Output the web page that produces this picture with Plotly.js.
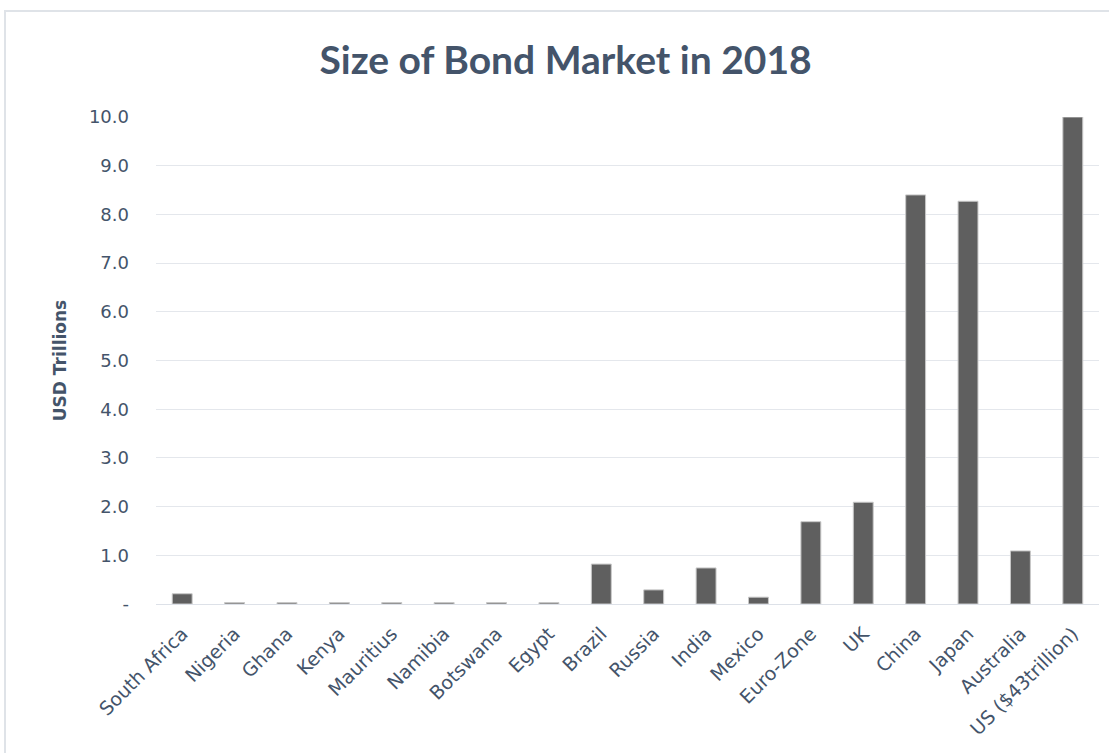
<!DOCTYPE html>
<html>
<head>
<meta charset="utf-8">
<script src="https://cdn.plot.ly/plotly-3.0.1.min.js"></script>
<style>
html,body{margin:0;padding:0;background:#fff;overflow:hidden;}
#frame{position:absolute;left:4px;top:10px;width:1130px;height:770px;border:2px solid #dfe3e8;box-sizing:border-box;}
#chart{position:absolute;left:0;top:0;width:1109px;height:753px;}
</style>
</head>
<body>
<div id="frame"></div>
<div id="chart"></div>
<script>
const categories = ["South Africa","Nigeria","Ghana","Kenya","Mauritius","Namibia","Botswana","Egypt","Brazil","Russia","India","Mexico","Euro-Zone","UK","China","Japan","Australia","US ($43trillion)"];
const values = [0.21,0.03,0.03,0.03,0.03,0.03,0.03,0.03,0.82,0.29,0.74,0.14,1.69,2.09,8.4,8.27,1.09,10.0];
const yTickVals = [0,1,2,3,4,5,6,7,8,9,10];
const yTickText = ["-","1.0","2.0","3.0","4.0","5.0","6.0","7.0","8.0","9.0","10.0"];

const titleFont = "Lato, 'Open Sans', sans-serif";
const bodyFont = "'DejaVu Sans', sans-serif";
const data = [{
  type: 'bar',
  x: categories,
  y: values,
  marker: {color: '#5f5f5f', line: {color: '#c8c8c8', width: 1}},
  hoverinfo: 'x+y'
}];
const layout = {
  width: 1109, height: 753,
  paper_bgcolor: 'rgba(0,0,0,0)', plot_bgcolor: 'rgba(0,0,0,0)',
  margin: {l: 156, r: 10, t: 117, b: 149},
  bargap: 0.62,
  showlegend: false,
  title: {text: '<b>Size of Bond Market in 2018</b>', x: 0.51, xanchor: 'center', y: 0.92, yanchor: 'middle',
          font: {family: titleFont, size: 39, color: '#44546a'}},
  xaxis: {
    tickangle: -45,
    tickfont: {family: bodyFont, size: 19, color: '#44546a'},
    showgrid: false, showline: false, ticks: '', automargin: false,
    ticklabelstandoff: 14
  },
  yaxis: {
    range: [0, 10],
    tickvals: yTickVals, ticktext: yTickText,
    tickfont: {family: bodyFont, size: 18, color: '#44546a'},
    gridcolor: '#e4e7ec', gridwidth: 1,
    zeroline: true, zerolinecolor: '#dde1e8', zerolinewidth: 1,
    ticks: '', ticklabelstandoff: 26,
    title: {text: '<b>USD Trillions</b>', standoff: 17, font: {family: bodyFont, size: 17, color: '#44546a'}},
    automargin: false
  }
};
Plotly.newPlot('chart', data, layout, {displayModeBar: false, staticPlot: true});
</script>
</body>
</html>
